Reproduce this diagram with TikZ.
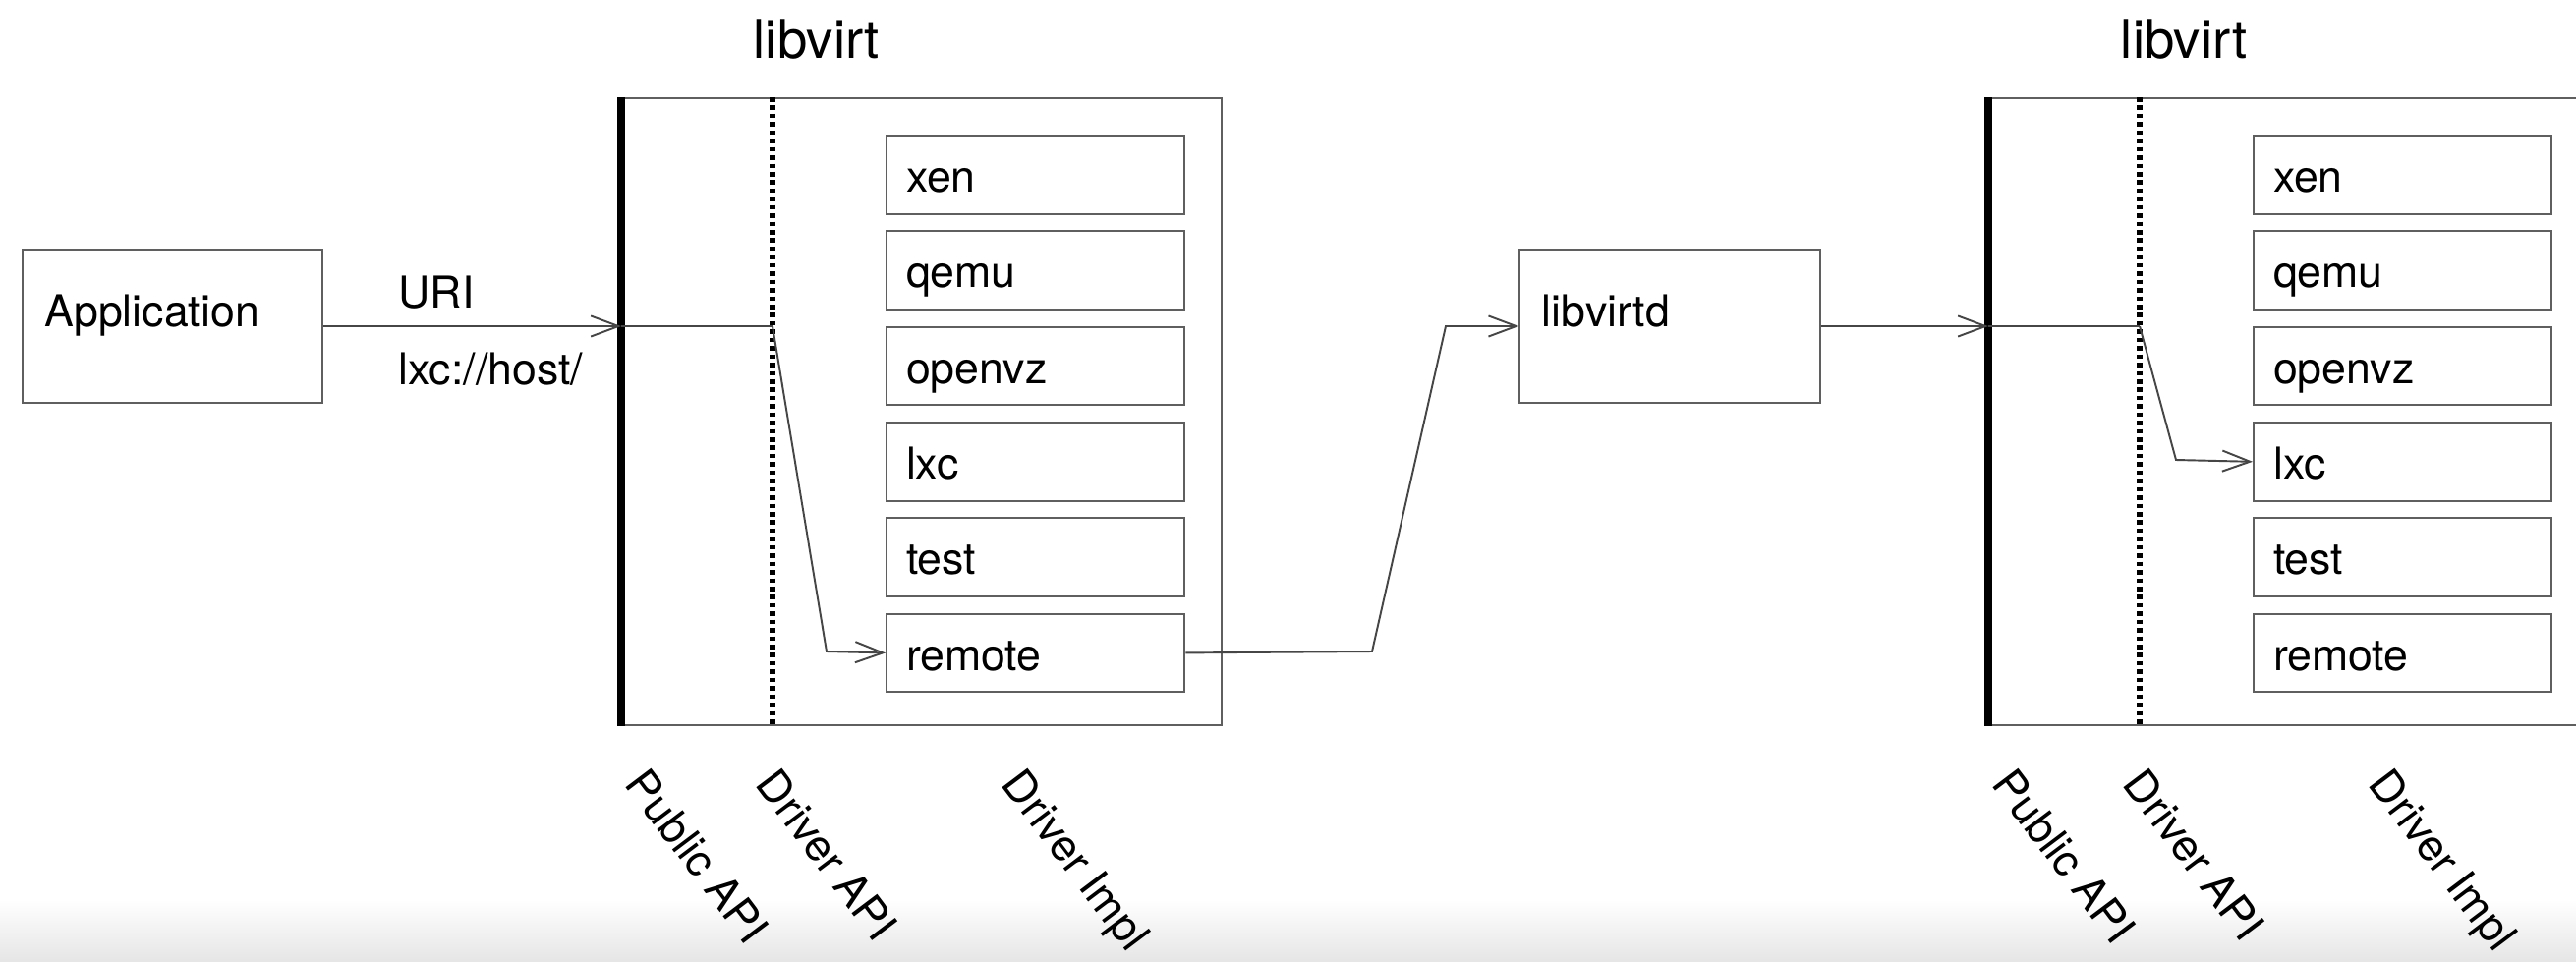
\documentclass[tikz,border=0pt]{standalone}
\usepackage{fontspec}
\setmainfont{TeX Gyre Heros}
\usetikzlibrary{arrows.meta,positioning,calc}
\definecolor{boxgray}{RGB}{95,95,95}
\definecolor{wiregray}{RGB}{70,70,70}

\tikzset{
  boxfont/.style={font=\fontsize{12.7}{15}\selectfont},
  drvbox/.style={boxfont, draw=boxgray, line width=0.6pt, rectangle,
    minimum width=3.03cm, minimum height=0.785cm, text width=2.63cm,
    inner xsep=0.2cm, align=left, text height=13pt, text depth=3pt},
  procbox/.style={boxfont, draw=boxgray, line width=0.6pt, rectangle,
    minimum width=3.05cm, minimum height=1.56cm, text width=2.6cm,
    inner xsep=0.225cm, align=left, text height=12pt, text depth=12pt},
  libbox/.style={draw=boxgray, line width=0.6pt, rectangle,
    minimum width=6.1cm, minimum height=6.38cm, inner sep=0pt},
  pubapi/.style={black, line width=2.2pt},
  drvapi/.style={black, line width=1.8pt, dash pattern=on 1.3pt off 1.1pt},
  wire/.style={draw=wiregray, line width=0.55pt},
  arr/.style={wire, -{Straight Barb[length=8pt,width=6pt]}},
  layer/.style={rotate=-53, anchor=north west, inner sep=0pt,
    font=\fontsize{12.7}{15}\selectfont},
  title/.style={font=\fontsize{15.5}{18}\selectfont},
  uri/.style={boxfont, anchor=base west, inner sep=0pt}
}

\begin{document}
\begin{tikzpicture}[x=0.01cm, y=-0.01cm]
    \useasboundingbox (0,0) rectangle (2621,978);
    \clip (0,0) rectangle (2621,978);
    \fill[white] (0,0) rectangle (2621,978);
    \shade[top color=white, bottom color=black!10] (0,915) rectangle (2621,978);

    % client side
    \node[procbox] (app) at (175.5,332) {Application};
    \node[uri] (uri) at (405,313) {URI};
    \node[uri] (urival) at (405,391) {lxc://host/};
    \node[procbox] (libvirtd) at (1699,332) {libvirtd};

    % the two libvirt stacks
    \foreach \L/\n in {632/1, 2023/2} {
        \node[libbox, anchor=north west] (lib\n) at (\L,99) {};
        \node[title] (title\n) at (\L+199,40) {libvirt};
        \draw[pubapi] (lib\n.north west) -- (lib\n.south west);
        \draw[drvapi] (\L+154,99) -- (\L+154,737);
        \coordinate (pub\n) at (\L,332);
        \coordinate (drv\n) at (\L+154,332);
        \foreach \d [count=\k from 0] in {xen,qemu,openvz,lxc,test,remote} {
            \node[drvbox, anchor=north west] (\d\n) at (\L+269,137+\k*97.3) {\d};
        }
        % layer labels
        \node[layer] (pubtxt\n) at (\L+29,778) {Public API};
        \node[layer] (drvtxt\n) at (\L+162,778) {Driver API};
        \node[layer] (impltxt\n) at (\L+412,778) {Driver Impl};
    }

    % connectors
    \coordinate (bend1) at (841,663);
    \coordinate (bend2) at (1396,663);
    \coordinate (bend3) at (1471,332);
    \coordinate (bend4) at (2214,468);
    \draw[arr] (app.east) -- (pub1);
    \draw[wire] (pub1) -- (drv1);
    \draw[arr] (drv1) -- (bend1) -- (remote1.west);
    \draw[arr] (remote1.east) -- (bend2) -- (bend3) -- (libvirtd.west);
    \draw[arr] (libvirtd.east) -- (pub2);
    \draw[wire] (pub2) -- (drv2);
    \draw[arr] (drv2) -- (bend4) -- (lxc2.west);
\end{tikzpicture}
\end{document}
